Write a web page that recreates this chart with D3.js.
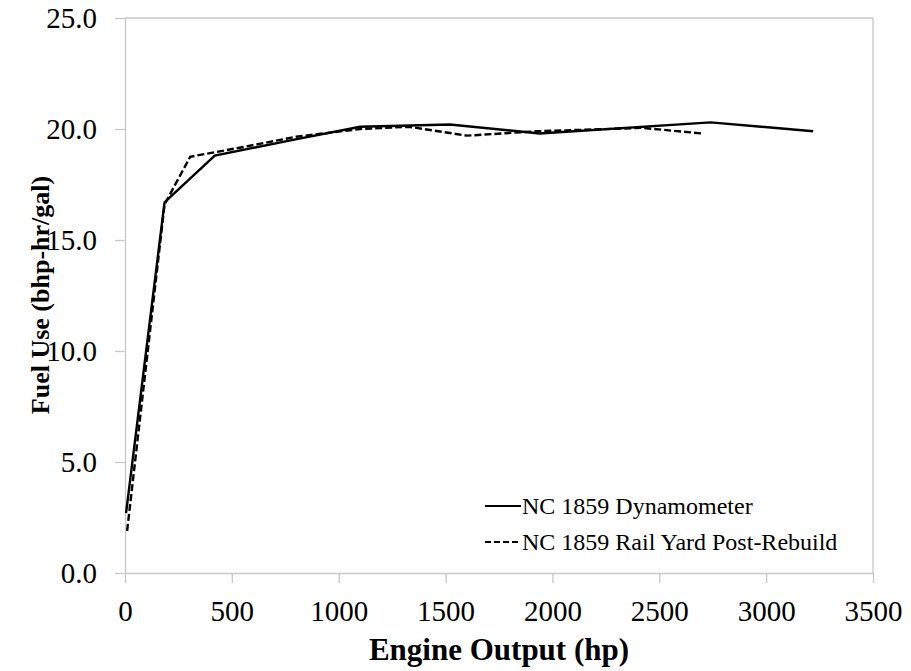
<!DOCTYPE html>
<html><head><meta charset="utf-8">
<script src="https://cdn.jsdelivr.net/npm/d3@7"></script>
<style>body{margin:0;background:#fff;} svg{display:block;}</style>
</head><body>
<svg id="c" width="911" height="671"></svg>
<script>
const seriesNames = ["NC 1859 Dynamometer", "NC 1859 Rail Yard Post-Rebuild"];
const dynoHp   = [5, 185, 420, 780, 1100, 1520, 1940, 2740, 3220];
const dynoFuel = [2.7, 16.7, 18.8, 19.5, 20.1, 20.2, 19.8, 20.3, 19.9];
const yardHp   = [10, 185, 305, 560, 800, 1100, 1330, 1600, 1930, 2420, 2700];
const yardFuel = [1.9, 16.6, 18.75, 19.2, 19.65, 20.0, 20.1, 19.7, 19.9, 20.05, 19.8];
const xTicks = [0, 500, 1000, 1500, 2000, 2500, 3000, 3500];
const yTicks = [0, 5, 10, 15, 20, 25];
const xTitle = "Engine Output (hp)";
const yTitle = "Fuel Use (bhp-hr/gal)";

const svg = d3.select("#c");
const L = 125, R = 873, T = 18, B = 573;
const x = d3.scaleLinear().domain([0, 3500]).range([L, R]);
const y = d3.scaleLinear().domain([0, 25]).range([B, T]);
const axisColor = "#c8c8c8";
const font = "'Liberation Serif','Times New Roman',serif";

// border top/right
svg.append("line").attr("x1", L).attr("x2", R).attr("y1", T).attr("y2", T).attr("stroke", axisColor).attr("stroke-width", 1.3);
svg.append("line").attr("x1", R).attr("x2", R).attr("y1", T).attr("y2", B).attr("stroke", axisColor).attr("stroke-width", 1.3);

const xa = svg.append("g").attr("transform", `translate(0,${B})`)
  .call(d3.axisBottom(x).tickValues(xTicks).tickSize(10).tickSizeOuter(0).tickPadding(17).tickFormat(d3.format("d")));
const ya = svg.append("g").attr("transform", `translate(${L},0)`)
  .call(d3.axisLeft(y).tickValues(yTicks).tickSize(10).tickSizeOuter(0).tickPadding(18).tickFormat(d3.format(".1f")));
[xa, ya].forEach(a => {
  a.selectAll("path,line").attr("stroke", axisColor).attr("stroke-width", 1.3);
  a.selectAll("text").attr("fill", "#000").style("font-family", font).style("font-size", "29px");
});

const line = d3.line().x(d => x(d[0])).y(d => y(d[1]));
const dyno = dynoHp.map((h, i) => [h, dynoFuel[i]]);
const yard = yardHp.map((h, i) => [h, yardFuel[i]]);
svg.append("path").attr("d", line(yard)).attr("fill", "none").attr("stroke", "#000")
  .attr("stroke-width", 2.4).attr("stroke-dasharray", "7,3");
svg.append("path").attr("d", line(dyno)).attr("fill", "none").attr("stroke", "#000")
  .attr("stroke-width", 2.4);

// titles
svg.append("text").attr("x", 499).attr("y", 660).attr("text-anchor", "middle")
  .style("font-family", font).style("font-size", "31px").style("font-weight", "bold").text(xTitle);
svg.append("text").attr("transform", "translate(49,295) rotate(-90)").attr("text-anchor", "middle")
  .style("font-family", font).style("font-size", "26px").style("font-weight", "bold").text(yTitle);

// legend
const lg = svg.append("g");
seriesNames.forEach((n, i) => {
  const yy = 506 + i * 36;
  lg.append("line").attr("x1", 485).attr("x2", 521).attr("y1", yy).attr("y2", yy)
    .attr("stroke", "#000").attr("stroke-width", 2.2).attr("stroke-dasharray", i ? "6,3" : null);
  lg.append("text").attr("x", 522).attr("y", yy + 8).style("font-family", font).style("font-size", "24px").text(n);
});
</script>
</body></html>
